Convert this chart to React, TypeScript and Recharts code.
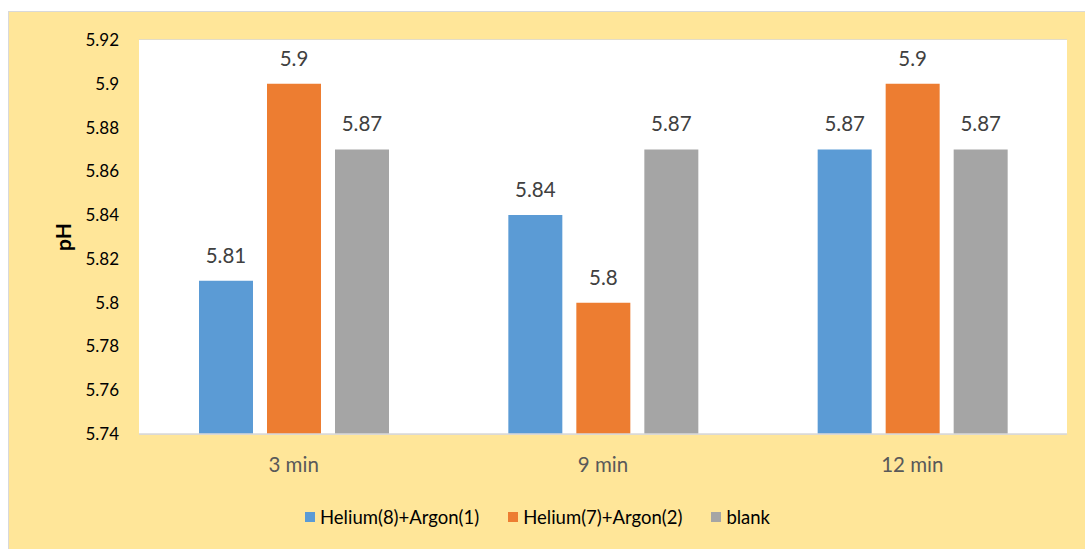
import { Bar, BarChart, CartesianGrid, LabelList, Legend, XAxis, YAxis, Label } from 'recharts'

const categories = ['3 min', '9 min', '12 min']
const heliumArgon81 = [5.81, 5.84, 5.87]
const heliumArgon72 = [5.9, 5.8, 5.9]
const blank = [5.87, 5.87, 5.87]
const yTicks = [5.74, 5.76, 5.78, 5.8, 5.82, 5.84, 5.86, 5.88, 5.9, 5.92]

const series = [
  { key: 'a', name: 'Helium(8)+Argon(1)', color: '#5B9BD5' },
  { key: 'b', name: 'Helium(7)+Argon(2)', color: '#ED7D31' },
  { key: 'c', name: 'blank', color: '#A5A5A5' },
]

const data = categories.map((cat, i) => ({
  cat,
  a: heliumArgon81[i],
  b: heliumArgon72[i],
  c: blank[i],
}))

const font = 'Lato, "Open Sans", sans-serif'
const fmt = (v: number | string) => String(Number(Number(v).toFixed(2)))

function LegendRow() {
  return (
    <div style={{ display: 'flex', alignItems: 'center', height: 24, fontFamily: font, fontSize: 18.5, color: '#000' }}>
      {series.map((s, i) => (
        <div key={s.key} style={{ display: 'flex', alignItems: 'center', marginLeft: i === 0 ? 0 : 29 }}>
          <span style={{ width: 10, height: 10, background: s.color, marginRight: 5, display: 'inline-block' }} />
          <span>{s.name}</span>
        </div>
      ))}
    </div>
  )
}

export default function App() {
  return (
    <div
      style={{
        position: 'absolute',
        left: 8,
        top: 11,
        width: 1077,
        height: 538,
        background: '#FFE699',
        borderTop: '1px solid #D9D9D9',
        borderLeft: '1px solid #D9D9D9',
        boxSizing: 'border-box',
      }}
    >
      <BarChart
        width={1076}
        height={537}
        data={data}
        margin={{ top: 28, right: 18, bottom: 20, left: 0 }}
        barGap={14}
        barSize={54}
        style={{ fontFamily: font }}
      >
        <rect x={130} y={28} width={928} height={394} fill="#fff" />
        <CartesianGrid stroke="#D9D9D9" strokeWidth={1.5} vertical={false} fill="#fff" />
        <XAxis
          dataKey="cat"
          tickLine={false}
          axisLine={{ stroke: '#D9D9D9', strokeWidth: 1.5 }}
          tick={{ fill: '#595959', fontSize: 20.5 }}
          tickMargin={17}
          height={71}
        />
        <YAxis
          domain={[5.74, 5.92]}
          ticks={yTicks}
          interval={0}
          tickLine={false}
          axisLine={false}
          tick={{ fill: '#000', fontSize: 17 }}
          tickMargin={14}
          tickFormatter={fmt}
          width={130}
        >
          <Label
            content={() => (
              <text
                x={53}
                y={225}
                transform="rotate(-90, 53, 225)"
                textAnchor="middle"
                dominantBaseline="central"
                fontSize={21}
                fontWeight="bold"
                fill="#000"
                fontFamily={font}
              >
                pH
              </text>
            )}
          />
        </YAxis>
        <Legend
          verticalAlign="bottom"
          content={() => <LegendRow />}
          wrapperStyle={{ left: 296, width: 'auto', height: 24 }}
        />
        {series.map((s) => (
          <Bar key={s.key} dataKey={s.key} name={s.name} fill={s.color} isAnimationActive={false}>
            <LabelList dataKey={s.key} position="top" offset={18} fill="#404040" fontSize={20.5} formatter={fmt} />
          </Bar>
        ))}
      </BarChart>
    </div>
  )
}
